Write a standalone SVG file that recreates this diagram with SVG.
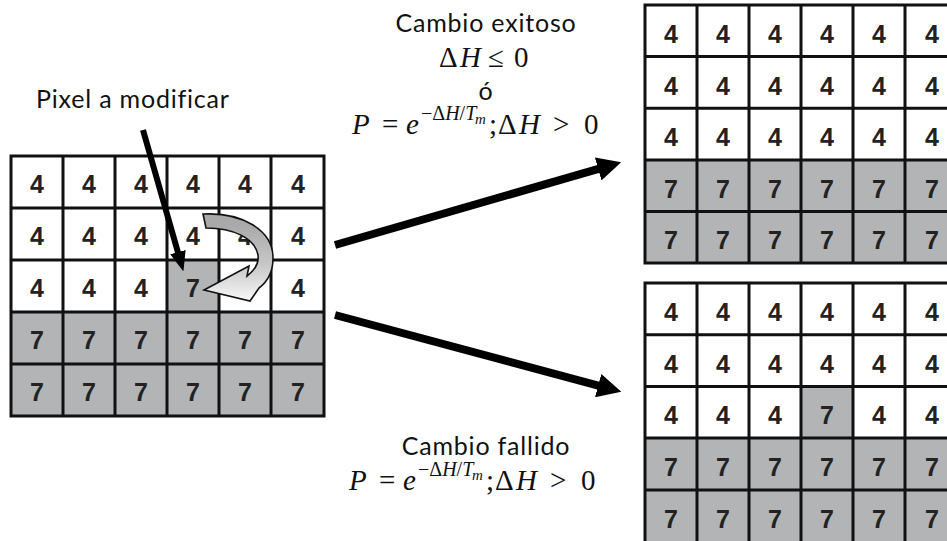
<svg xmlns="http://www.w3.org/2000/svg" width="947" height="541" viewBox="0 0 947 541">
<style>
.bg{fill:#ffffff}
.gray{fill:#b3b4b6}
.grid{fill:none;stroke:#111;stroke-width:3}
.d{font-family:"Liberation Sans",Arial,sans-serif;font-weight:bold;font-size:25px;fill:#222;text-anchor:middle}
.lbl{font-family:Lato,"Noto Sans",sans-serif;font-size:25px;letter-spacing:0.8px;fill:#111}
.m{font-family:"Liberation Serif","DejaVu Serif",serif;font-size:29px;fill:#111}
.i{font-style:italic}
.sup{font-size:20px}
.sub{font-size:15px}
.arrow{stroke:#000;stroke-width:8;fill:none}
.ptr{stroke:#000;stroke-width:6;fill:none}
</style>
<defs>
<marker id="head" markerUnits="userSpaceOnUse" viewBox="0 0 24 24" markerWidth="24" markerHeight="24" refX="4" refY="12" orient="auto">
<path d="M0,0 L24,12 L0,24 z" fill="#000"/>
</marker>
<marker id="headSmall" markerUnits="userSpaceOnUse" viewBox="0 0 20 16" markerWidth="20" markerHeight="16" refX="4" refY="8" orient="auto">
<path d="M0,0 L20,8 L0,16 z" fill="#000"/>
</marker>
<linearGradient id="curveFill" gradientUnits="userSpaceOnUse" x1="0" y1="225" x2="0" y2="298">
<stop offset="0" stop-color="#a9a9a9"/>
<stop offset="0.55" stop-color="#c8c8c8"/>
<stop offset="1" stop-color="#f4f4f4"/>
</linearGradient>
</defs>

<rect width="947" height="541" fill="#fff"/>

<!-- Left grid (initial state) -->
<g id="grid-initial">
<rect class="bg" x="11" y="156" width="313" height="260"/>
<rect class="gray" x="11" y="312" width="313" height="104"/>
<rect class="gray" x="167" y="260" width="52" height="52"/>
<path class="grid" d="M11,156H324V416H11Z M63,156V416 M115,156V416 M167,156V416 M219,156V416 M271,156V416 M11,208H324 M11,260H324 M11,312H324 M11,364H324"/>
<g class="d">
<text x="37" y="193">4</text><text x="89" y="193">4</text><text x="141" y="193">4</text><text x="193" y="193">4</text><text x="245" y="193">4</text><text x="298" y="193">4</text>
<text x="37" y="245">4</text><text x="89" y="245">4</text><text x="141" y="245">4</text><text x="193" y="245">4</text><text x="245" y="245">4</text><text x="298" y="245">4</text>
<text x="37" y="297">4</text><text x="89" y="297">4</text><text x="141" y="297">4</text><text x="193" y="297">7</text><text x="245" y="297">4</text><text x="298" y="297">4</text>
<text x="37" y="349">7</text><text x="89" y="349">7</text><text x="141" y="349">7</text><text x="193" y="349">7</text><text x="245" y="349">7</text><text x="298" y="349">7</text>
<text x="37" y="401">7</text><text x="89" y="401">7</text><text x="141" y="401">7</text><text x="193" y="401">7</text><text x="245" y="401">7</text><text x="298" y="401">7</text>
</g>
</g>

<!-- Top right grid (successful change) -->
<g id="grid-success">
<rect class="bg" x="645" y="5" width="320" height="258"/>
<rect class="gray" x="645" y="160" width="320" height="103"/>
<path class="grid" d="M965,5H645V263H965 M697,5V263 M749,5V263 M801,5V263 M853,5V263 M905,5V263 M645,56.6H965 M645,108.2H965 M645,160H965 M645,211.5H965"/>
<g class="d">
<text x="671" y="43">4</text><text x="723" y="43">4</text><text x="775" y="43">4</text><text x="827" y="43">4</text><text x="879" y="43">4</text><text x="932" y="43">4</text>
<text x="671" y="95">4</text><text x="723" y="95">4</text><text x="775" y="95">4</text><text x="827" y="95">4</text><text x="879" y="95">4</text><text x="932" y="95">4</text>
<text x="671" y="146">4</text><text x="723" y="146">4</text><text x="775" y="146">4</text><text x="827" y="146">4</text><text x="879" y="146">4</text><text x="932" y="146">4</text>
<text x="671" y="198">7</text><text x="723" y="198">7</text><text x="775" y="198">7</text><text x="827" y="198">7</text><text x="879" y="198">7</text><text x="932" y="198">7</text>
<text x="671" y="249">7</text><text x="723" y="249">7</text><text x="775" y="249">7</text><text x="827" y="249">7</text><text x="879" y="249">7</text><text x="932" y="249">7</text>
</g>
</g>

<!-- Bottom right grid (failed change) -->
<g id="grid-failed">
<rect class="bg" x="645" y="283" width="320" height="270"/>
<rect class="gray" x="645" y="438" width="320" height="115"/>
<rect class="gray" x="801" y="386.6" width="52" height="51.4"/>
<path class="grid" d="M965,283H645V560 M697,283V560 M749,283V560 M801,283V560 M853,283V560 M905,283V560 M645,334.8H965 M645,386.6H965 M645,438H965 M645,490H965"/>
<g class="d">
<text x="671" y="321">4</text><text x="723" y="321">4</text><text x="775" y="321">4</text><text x="827" y="321">4</text><text x="879" y="321">4</text><text x="932" y="321">4</text>
<text x="671" y="373">4</text><text x="723" y="373">4</text><text x="775" y="373">4</text><text x="827" y="373">4</text><text x="879" y="373">4</text><text x="932" y="373">4</text>
<text x="671" y="424">4</text><text x="723" y="424">4</text><text x="775" y="424">4</text><text x="827" y="424">7</text><text x="879" y="424">4</text><text x="932" y="424">4</text>
<text x="671" y="476">7</text><text x="723" y="476">7</text><text x="775" y="476">7</text><text x="827" y="476">7</text><text x="879" y="476">7</text><text x="932" y="476">7</text>
<text x="671" y="528">7</text><text x="723" y="528">7</text><text x="775" y="528">7</text><text x="827" y="528">7</text><text x="879" y="528">7</text><text x="932" y="528">7</text>
</g>
</g>

<!-- Swap indicator (curved arrow) -->
<g id="swap-arrow">
<path d="M203,214 C242,212 273,230 273,258 C273,272 267,282 259,288 L250,301 L204,290 L249,266 L247,276 C255,270 259,262 258,255 C255,238 233,228 206,228 Z" fill="url(#curveFill)" stroke="#111" stroke-width="1.6" stroke-linejoin="miter"/>
</g>

<!-- Labels -->
<g id="label-pixel">
<text class="lbl" x="36" y="108">Pixel a modificar</text>
</g>
<g id="label-success">
<text class="lbl" x="486" y="32" text-anchor="middle">Cambio exitoso</text>
<text class="m"><tspan x="439" y="67">Δ</tspan><tspan class="i" x="460" y="67">H</tspan><tspan x="488" y="67">≤</tspan><tspan x="514" y="67">0</tspan></text>
<text class="lbl" x="486" y="100" text-anchor="middle">ó</text>
<text class="m"><tspan class="i" x="352" y="134">P</tspan><tspan x="382" y="134">=</tspan><tspan class="i" x="406" y="134">e</tspan><tspan class="sup" x="421" y="120">−Δ</tspan><tspan class="sup i">H</tspan><tspan class="sup">/</tspan><tspan class="sup i">T</tspan><tspan class="sub i" x="475" y="124">m</tspan><tspan x="489" y="134">;</tspan><tspan x="498" y="134">Δ</tspan><tspan class="i" x="519" y="134">H</tspan><tspan x="553" y="134">&gt;</tspan><tspan x="584" y="134">0</tspan></text>
</g>
<g id="label-failed">
<text class="lbl" x="486" y="455" text-anchor="middle">Cambio fallido</text>
<text class="m"><tspan class="i" x="349" y="490">P</tspan><tspan x="379" y="490">=</tspan><tspan class="i" x="403" y="490">e</tspan><tspan class="sup" x="418" y="476">−Δ</tspan><tspan class="sup i">H</tspan><tspan class="sup">/</tspan><tspan class="sup i">T</tspan><tspan class="sub i" x="472" y="480">m</tspan><tspan x="486" y="490">;</tspan><tspan x="495" y="490">Δ</tspan><tspan class="i" x="516" y="490">H</tspan><tspan x="550" y="490">&gt;</tspan><tspan x="581" y="490">0</tspan></text>
</g>

<!-- Connectors -->
<g id="connectors">
<line class="ptr" x1="143" y1="130" x2="179" y2="256" marker-end="url(#headSmall)"/>
<line class="arrow" x1="335" y1="245" x2="602" y2="167.8" marker-end="url(#head)"/>
<line class="arrow" x1="335" y1="315" x2="602" y2="386.6" marker-end="url(#head)"/>
</g>
</svg>
